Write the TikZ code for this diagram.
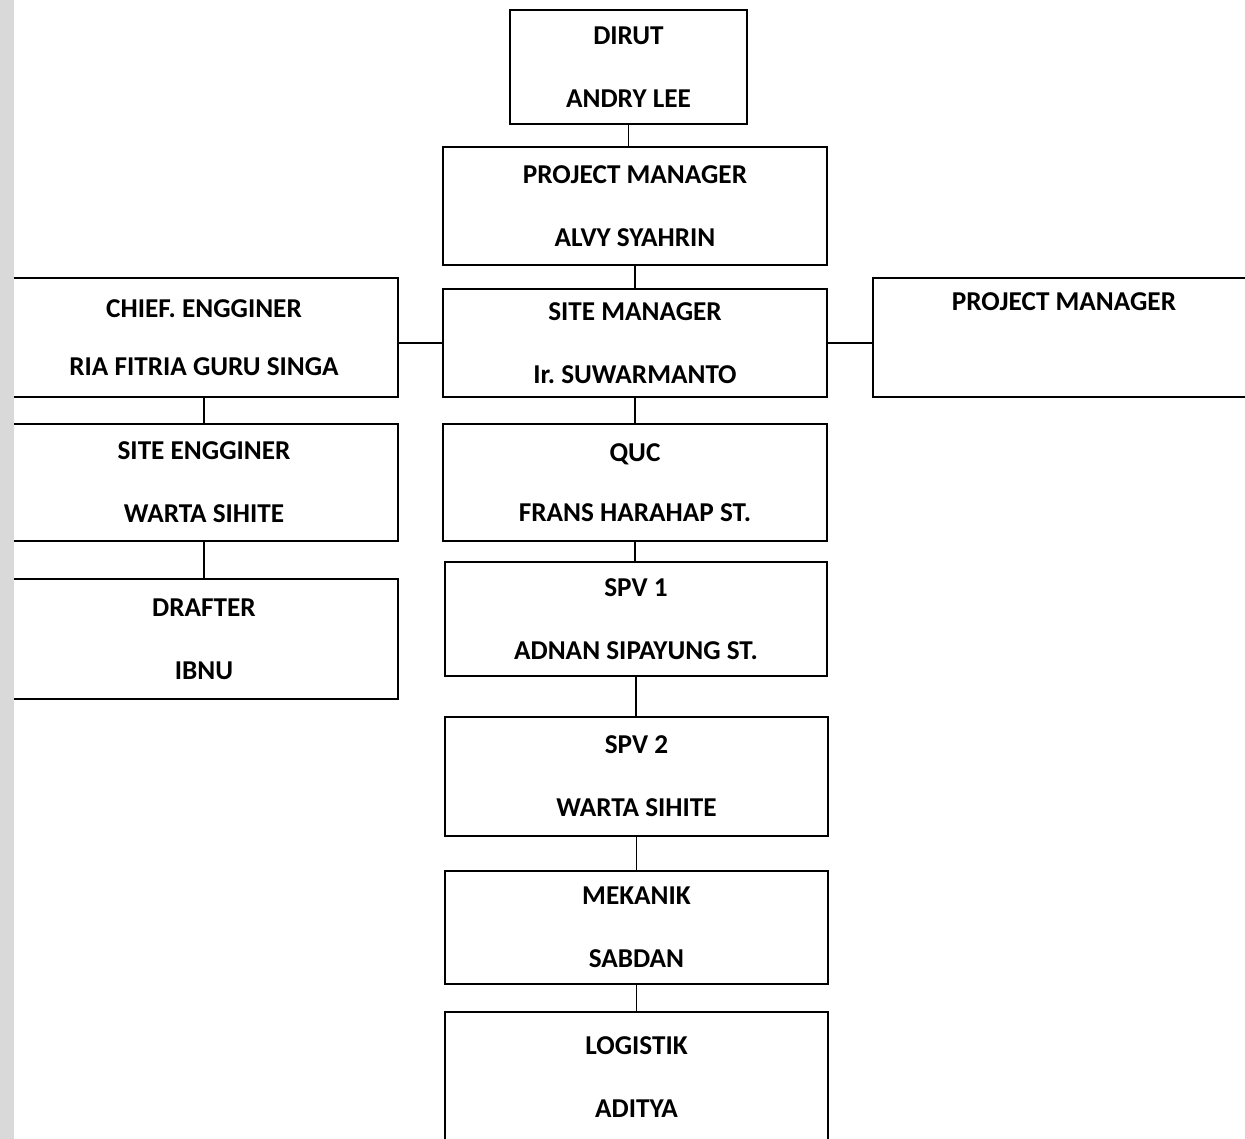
\documentclass[tikz,border=0pt]{standalone}
\usepackage{fontspec}
\setmainfont{Carlito}
\usepackage{tikz}

\tikzset{
	jabatan/.style={draw, line width=1pt, align=center, inner sep=0pt,
		font=\fontsize{15.5}{18}\selectfont\bfseries},
	garis/.style={line width=1pt}
}

\begin{document}
\begin{tikzpicture}[x=0.02cm, y=-0.02cm]
				\useasboundingbox (0,0) rectangle (1245,1139);
				\clip (0,0) rectangle (1245,1139);
				\node[jabatan, minimum width=237*0.02cm, minimum height=114*0.02cm] (dirut) at (628.5,67) {DIRUT\\[18pt]ANDRY LEE};
				\node[jabatan, minimum width=384*0.02cm, minimum height=118*0.02cm] (pm) at (635,206) {PROJECT MANAGER\\[18pt]ALVY SYAHRIN};
				\node[jabatan, minimum width=384*0.02cm, minimum height=108*0.02cm] (sm) at (635,343) {SITE MANAGER\\[18pt]Ir.\ SUWARMANTO};
				\node[jabatan, minimum width=382*0.02cm, minimum height=119*0.02cm] (pmkanan) at (1064,337.5) {PROJECT MANAGER\\[18pt]\strut};
				\node[jabatan, minimum width=388*0.02cm, minimum height=119*0.02cm] (chief) at (204,337.5) {CHIEF. ENGGINER\\[15pt]RIA FITRIA GURU SINGA};
				\node[jabatan, minimum width=388*0.02cm, minimum height=117*0.02cm] (seng) at (204,482.5) {SITE ENGGINER\\[18pt]WARTA SIHITE};
				\node[jabatan, minimum width=388*0.02cm, minimum height=120*0.02cm] (drafter) at (204,639) {DRAFTER\\[18pt]IBNU};
				\node[jabatan, minimum width=384*0.02cm, minimum height=117*0.02cm] (quc) at (635,482.5) {QUC\\[16pt]FRANS HARAHAP ST.};
				\node[jabatan, minimum width=382*0.02cm, minimum height=114*0.02cm] (spv1) at (636,619) {SPV 1\\[18pt]ADNAN SIPAYUNG ST.};
				\node[jabatan, minimum width=383*0.02cm, minimum height=119*0.02cm] (spv2) at (636.5,776.5) {SPV 2\\[18pt]WARTA SIHITE};
				\node[jabatan, minimum width=383*0.02cm, minimum height=113*0.02cm] (mekanik) at (636.5,927.5) {MEKANIK\\[18pt]SABDAN};
				\node[jabatan, minimum width=383*0.02cm, minimum height=130*0.02cm] (logistik) at (636.5,1077) {LOGISTIK\\[18pt]ADITYA};
				\draw[garis] (dirut.south) -- (dirut.south |- pm.north);
				\draw[garis] (pm.south) -- (sm.north);
				\draw[garis] (sm.west) -- (sm.west -| chief.east);
				\draw[garis] (sm.east) -- (sm.east -| pmkanan.west);
				\draw[garis] (chief.south) -- (seng.north);
				\draw[garis] (seng.south) -- (drafter.north);
				\draw[garis] (sm.south) -- (quc.north);
				\draw[garis] (quc.south) -- (quc.south |- spv1.north);
				\draw[garis] (spv1.south) -- (spv1.south |- spv2.north);
				\draw[garis] (spv2.south) -- (mekanik.north);
				\draw[garis] (mekanik.south) -- (logistik.north);
				% pinggir kiri hasil scan
				\fill[gray!30] (0,0) rectangle (14,1139);
			\end{tikzpicture}
\end{document}
